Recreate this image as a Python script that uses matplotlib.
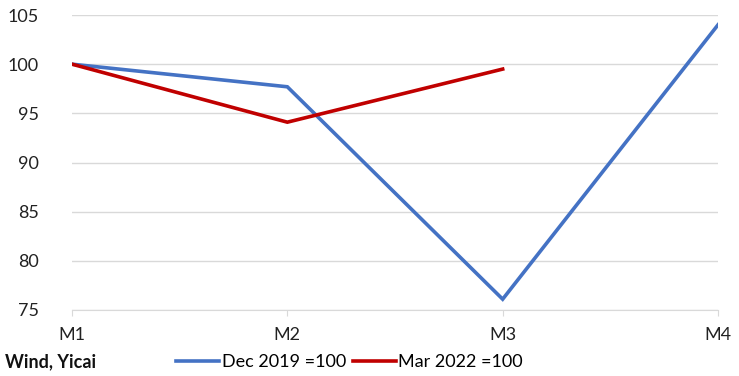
import matplotlib
matplotlib.use("Agg")
import matplotlib.pyplot as plt

# data
months = ["M1", "M2", "M3", "M4"]
dec2019 = [100, 97.7, 76.1, 104.0]
mar2022 = [100, 94.1, 99.5]
yticks = [75, 80, 85, 90, 95, 100, 105]

plt.rcParams['font.family'] = ['Lato', 'DejaVu Sans']

fig = plt.figure(figsize=(7.39, 3.76), dpi=100)
ax = fig.add_axes([72 / 739, 1 - 310 / 376, 646 / 739, 295 / 376])

x1 = list(range(len(dec2019)))
x2 = list(range(len(mar2022)))
ax.plot(x1, dec2019, color="#4472C4", lw=2.6, label="Dec 2019 =100",
        solid_joinstyle="miter", zorder=3)
ax.plot(x2, mar2022, color="#C00000", lw=2.6, label="Mar 2022 =100",
        solid_joinstyle="miter", zorder=4)

ax.set_xlim(0, 3)
ax.set_ylim(75, 105)
ax.set_yticks(yticks)
ax.set_xticks(x1)
ax.set_xticklabels(months)
ax.grid(axis="y", color="#D9D9D9", lw=1)
ax.set_axisbelow(True)
for s in ["top", "right", "left"]:
    ax.spines[s].set_visible(False)
ax.spines["bottom"].set_color("#D9D9D9")
ax.tick_params(axis="y", length=0, pad=24, labelsize=13, labelcolor="#222222")
ax.tick_params(axis="x", length=4, color="#D9D9D9", pad=8, labelsize=13,
               labelcolor="#222222")

fig.text(5 / 739, 1 - 362 / 376, "Wind, Yicai", fontsize=13, fontweight="bold",
         va="center", ha="left", color="#111111")
fig.legend(loc="center left", bbox_to_anchor=(176 / 739, 1 - 362 / 376), ncol=2,
           frameon=False, fontsize=13, handlelength=2.4, handletextpad=0.12,
           columnspacing=0.4, borderaxespad=0, borderpad=0)

fig.savefig("out.png", dpi=100)
